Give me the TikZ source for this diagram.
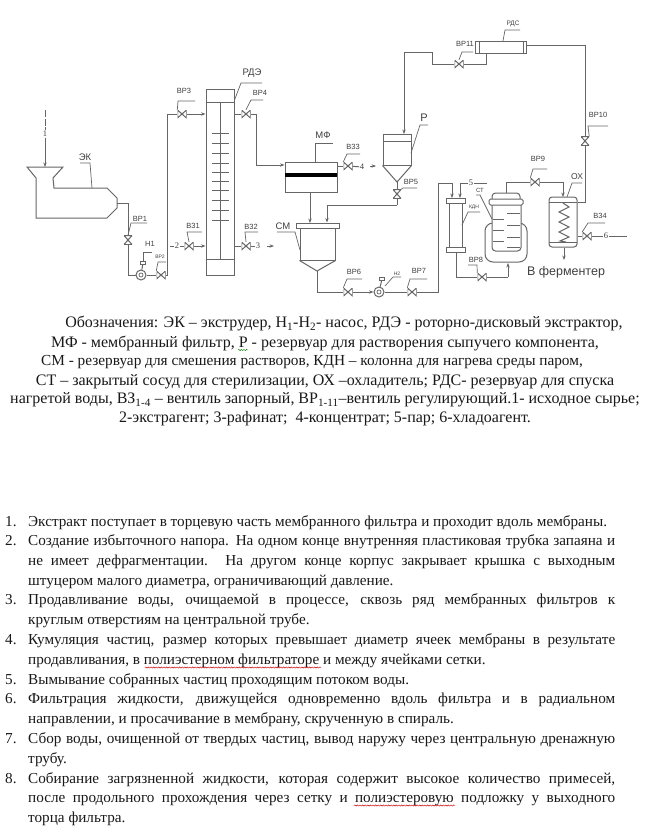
\documentclass[tikz,border=0pt]{standalone}
\usepackage{fontspec}
\setmainfont{Liberation Serif}
\newfontfamily\lblfont{Liberation Sans}
\usetikzlibrary{arrows.meta,decorations.pathmorphing,calc}
\definecolor{lc}{gray}{0.4}
\definecolor{tc}{gray}{0.1}
\definecolor{lt}{gray}{0.25}
\tikzset{
 x=1pt,y=-1pt,
 pipe/.style={draw=lc,line width=1pt},
 arr/.style={pipe,-{Stealth[length=4.5pt,width=3.4pt]}},
 dash1/.style={pipe,dashed,dash pattern=on 7pt off 1.5pt},
 lead/.style={draw=lc,line width=.7pt},
 eq/.style={draw=lc,line width=1pt,fill=white,rectangle,inner sep=0pt},
 vh/.style={rectangle,inner sep=0pt,minimum width=9pt,minimum height=8pt,
   path picture={\draw[lc,line width=1pt] (path picture bounding box.north west)--(path picture bounding box.south east)--(path picture bounding box.north east)--(path picture bounding box.south west)--cycle;}},
 vv/.style={rectangle,inner sep=0pt,minimum width=8pt,minimum height=9pt,
   path picture={\draw[lc,line width=1pt] (path picture bounding box.north west)--(path picture bounding box.south east)--(path picture bounding box.south west)--(path picture bounding box.north east)--cycle;}},
 pump/.style={circle,draw=lc,line width=1pt,fill=white,minimum size=10pt,inner sep=0pt,
   path picture={\draw[lc,line width=.7pt] (path picture bounding box.center) circle (2pt);}},
 lb/.style={font=\lblfont\fontsize{7.5}{8}\selectfont,text=lt,inner sep=0pt},
 lbb/.style={font=\lblfont\fontsize{9.5}{10}\selectfont,text=lt,inner sep=0pt},
 lbs/.style={font=\lblfont\fontsize{5}{6}\selectfont,text=lt,inner sep=0pt},
 st/.style={font=\fontsize{8.5}{9}\selectfont,text=lt,inner sep=.5pt},
 leg/.style={font=\fontsize{16}{17}\selectfont,text=tc,inner sep=0pt},
 li/.style={font=\fontsize{15.2}{16}\selectfont,text=tc,inner sep=0pt,anchor=base west},
 sq/.style={line width=.45pt,decorate,decoration={snake,amplitude=.6pt,segment length=2.6pt}},
}
\newcommand{\jl}[1]{\makebox[587pt][s]{#1}}
\begin{document}
\begin{tikzpicture}
\useasboundingbox[fill=white] (0,0) rectangle (645,830);

% ---- extruder
\coordinate (In1) at (45,110);
\coordinate (EKtop) at (45,167);
\coordinate (EKout) at (117,203);
\draw[pipe] (27,167)--(63,167)--(53,178)--(54,188)--(107,188)--(117,198)--(117,208)--(107,218)--(36,218)--(36,178)--cycle;
\node[st,fill=white] (S1) at (45,134) {1};
\draw[dash1] (In1)--(S1);
\draw[arr] (S1)--(EKtop);
\node[lbb] (LEK) at (85,157) {ЭК};
\draw[lead] (80,163)--(90,163)--(92,188);

% ---- extraction column
\node[eq,minimum width=28pt,minimum height=186pt] (RDE) at (220,182) {};
\draw[pipe] (RDE.west |- 0,102)--(RDE.east |- 0,102);
\draw[pipe] (RDE.west |- 0,259)--(RDE.east |- 0,259);
\draw[pipe] (220,102)--(220,259);
\foreach \yy in {133,143,153,163,172,181,190,200,210,220} \draw[pipe,line width=.7pt] (212,\yy)--(229,\yy);
\node[lbb] (LRDE) at (252,73) {РДЭ};
\draw[lead] (RDE.north east |- 0,100)--(241,83)--(262,83);

% ---- valves and pumps left
\node[vv] (VP1) at (128,240) {};
\node[pump] (H1) at (141,275) {};
\node[vh] (VP2) at (161,275) {};
\node[vh] (VP3) at (182,114) {};
\node[vh] (VP4) at (246,114) {};
\node[vh] (V31) at (189,246) {};
\node[vh] (V32) at (246,246) {};
\coordinate (c2) at (167,114);
\draw[pipe] (EKout)-|(VP1);
\draw[pipe] (VP1)|-(H1);
\draw[pipe] (H1)--(VP2);
\draw[pipe] (VP2)-|(c2)--(VP3);
\draw[arr] (VP3)--(RDE.west |- VP3);
\draw[pipe] (RDE.east |- VP4)--(VP4);
\node[eq,minimum width=5pt,minimum height=3pt] (H1box) at (143,263) {};
\draw[pipe] (H1box)--(H1);
\node[lb] (LVP1) at (140,219) {ВР1};
\draw[lead] (VP1.north)--(131,223)--(147,223);
\node[lb] (LH1) at (150,244) {Н1};
\draw[lead] (H1box)--(143,252)--(152,252);
\node[lbs] (LVP2) at (160,257) {ВР2};
\draw[lead] (VP2.north west)--(158,262)--(166,262);
\node[lb] (LVP3) at (184,91) {ВР3};
\draw[lead] (VP3.north west)--(178,101)--(195,101);
\node[lb] (LVP4) at (260,93) {ВР4};
\draw[lead] (VP4.north)--(251,100)--(263,100);
\node[st] (S2) at (177,246) {2};
\coordinate (S2a) at (170,246);
\draw[pipe] (S2a)--(S2)--(V31);
\draw[arr] (V31)--(RDE.west |- V31);
\node[lb] (LV31) at (193,226) {В31};
\draw[lead] (V31.north)--(187,232)--(202,232);
\node[st] (S3) at (258,246) {3};
\draw[pipe] (RDE.east |- V32)--(V32)--(S3);
\coordinate (A3a) at (267,246);
\coordinate (A3b) at (274,246);
\draw[arr] (A3a)--(A3b);
\node[lb] (LV32) at (251,227) {В32};
\draw[lead] (V32.north)--(245,232)--(258,232);

% ---- membrane filter
\node[eq,minimum width=52pt,minimum height=30pt] (MF) at (311,177) {};
\fill[black] (285,172.5) rectangle (337,176.5);
\coordinate (c4) at (256,165);
\draw[pipe] (VP4)-|(c4);
\draw[arr] (c4)--(MF.west |- c4);
\node[lbb] (LMF) at (323,135) {МФ};
\draw[lead] (315,162)--(315,143)--(333,143);
\node[vh] (V33) at (348,166) {};
\draw[pipe] (MF.east |- V33)--(V33);
\node[st] (S4) at (362,167) {4};
\draw[pipe] (V33)--(S4);
\coordinate (A4a) at (370,166);
\coordinate (A4b) at (376,166);
\draw[arr] (A4a)--(A4b);
\node[lb] (LV33) at (353,147) {В33};
\draw[lead] (V33.north west)--(347,154)--(360,154);

% ---- tank R
\node[eq,minimum width=28pt,minimum height=31pt] (R) at (397,149.5) {};
\coordinate (Rap) at (397,182);
\draw[pipe] (R.south west)--(Rap)--(R.south east);
\draw[pipe] (383,141)--(411,141);
\node[lbb,font=\lblfont\fontsize{11}{12}\selectfont] (LR) at (424,118) {Р};
\draw[lead] (411,153)--(420,125)--(428,125);
\node[vv] (VP5) at (397,194) {};
\draw[pipe] (Rap)--(VP5);
\node[lb] (LVP5) at (411,182) {ВР5};
\draw[lead] (VP5.north east)--(403,188)--(417,188);

% ---- mixing tank
\node[eq,minimum width=35pt,minimum height=32pt] (CM) at (317.5,244) {};
\node[eq,minimum width=43pt,minimum height=5pt] (CMf) at (317.5,225.5) {};
\coordinate (CMap) at (317,271);
\draw[pipe] (CM.south west)--(CMap)--(CM.south east);
\node[lbb] (LCM) at (283,226) {СМ};
\draw[lead] (277,232)--(295,232)--(300,250);
\coordinate (c5) at (397,205);
\draw[pipe] (VP5)--(c5);
\coordinate (c6) at (327,205);
\draw[pipe] (c5)--(c6);
\draw[arr] (c6)--(c6 |- CMf.north);
\draw[arr] (MF.south -| 310,0)--(310,223);

% ---- bottom line
\node[vh] (VP6) at (348,292) {};
\node[pump] (H2) at (379,292) {};
\node[vh] (VP7) at (412,292) {};
\coordinate (c7) at (317,292);
\draw[pipe] (CMap)--(c7)--(VP6);
\draw[arr] (VP6)--(H2);
\draw[pipe] (H2)--(VP7);
\node[eq,minimum width=5pt,minimum height=3pt] (H2box) at (382,279) {};
\draw[pipe] (H2box)--(H2);
\node[lb] (LVP6) at (354,272) {ВР6};
\draw[lead] (VP6.north west)--(347,279)--(362,279);
\node[lbs] (LH2) at (397,274) {Н2};
\draw[lead] (385,286)--(393,277)--(401,277);
\node[lb] (LVP7) at (419,271) {ВР7};
\draw[lead] (VP7.north west)--(410,279)--(427,279);

% ---- column KDN
\node[eq,minimum width=13pt,minimum height=44pt] (KD) at (455.5,225) {};
\node[eq,minimum width=19pt,minimum height=5pt] (KDt) at (455.5,201) {};
\node[eq,minimum width=19pt,minimum height=5pt] (KDb) at (455.5,249.5) {};
\coordinate (c8) at (438,292);
\coordinate (c9) at (438,183);
\coordinate (c10) at (452,183);
\draw[pipe] (VP7)--(c8)--(c9)--(c10);
\draw[arr] (c10)--(c10 |- KDt.north);
\node[st] (S5) at (471,183) {5};
\coordinate (c11) at (460,183);
\coordinate (S5e) at (487,183);
\draw[pipe] (S5e)--(S5)--(c11);
\draw[arr] (c11)--(c11 |- KDt.north);
\node[lbs] (LKD) at (474,207) {КДН};
\draw[lead] (462,225)--(468,212)--(480,212);

% ---- sterilizer
\draw[eq,rounded corners=8pt] (485,223) rectangle (527,262);
\draw[eq,rounded corners=3.5pt] (492,199)--(492,193)--(520,193)--(520,199);
\draw[eq,rounded corners=3.5pt] (492,205)--(492,251)--(521,251)--(521,205);
\node[eq,rounded corners=1.5pt,minimum width=34pt,minimum height=6pt] (ST) at (506,202) {};
\foreach \yy in {219,230,241} \draw[pipe,line width=.7pt] (493,\yy)--(504,\yy);
\foreach \yy in {213,225,237,247} \draw[pipe,line width=.7pt] (507,\yy)--(520,\yy);
\node[lbs,font=\lblfont\fontsize{6}{7}\selectfont] (LST) at (480,190) {СТ};
\draw[lead] (492,219)--(480,195)--(476,195);
\node[vh] (VP8) at (482,277) {};
\coordinate (c12) at (456,277);
\coordinate (c13) at (508,277);
\coordinate (c14) at (508,263);
\draw[pipe] (KDb.south -| c12)--(c12)--(VP8);
\draw[pipe] (VP8)--(c13);
\draw[arr] (c13)--(c14);
\node[lb] (LVP8) at (476,260) {ВР8};
\draw[lead] (VP8.north west)--(477,265)--(468,265);
\node[vh] (VP9) at (535,182) {};
\coordinate (c15) at (506,193);
\coordinate (c16) at (506,182);
\coordinate (c17) at (563,182);
\coordinate (c18) at (563,197);
\draw[pipe] (c15)--(c16)--(VP9);
\draw[pipe] (VP9)--(c17);
\draw[arr] (c17)--(c18);
\node[lb] (LVP9) at (538,159) {ВР9};
\draw[lead] (VP9.north west)--(533,169)--(547,169);

% ---- cooler
\node[eq,rounded corners=3pt,minimum width=28pt,minimum height=50pt] (OX) at (563,222) {};
\draw[pipe] (549,202)--(577,202);
\draw[pipe] (549,242)--(577,242);
\draw[pipe,line join=miter] (563,203)--(569,207)--(559,212)--(569,217)--(559,222)--(569,227)--(559,232)--(569,237)--(560,241)--(566,242);
\node[lbb,font=\lblfont\fontsize{8.5}{9}\selectfont] (LOX) at (577,177) {ОХ};
\draw[lead] (567,197)--(572,183)--(582,183);
\coordinate (OXo) at (564,260);
\draw[arr] (OX.south -| OXo)--(OXo);
\node[font=\lblfont\fontsize{12.5}{13}\selectfont,text=lt,inner sep=0pt] (LF) at (566,272) {В ферментер};
\node[vh] (V34) at (587,236) {};
\draw[pipe] (OX.east |- V34)--(V34);
\node[st] (S6) at (606,236) {6};
\coordinate (S6e) at (627,236);
\draw[pipe] (V34)--(S6)--(S6e);
\node[lb] (LV34) at (600,216) {В34};
\draw[lead] (V34.north west)--(588,223)--(605,223);
\node[vv] (VP10) at (585,141) {};
\coordinate (c19) at (585,202);
\coordinate (c20) at (585,45);
\draw[pipe] (OX.east |- c19)--(c19)--(VP10);
\node[lb] (LVP10) at (598,115) {ВР10};
\draw[lead] (VP10.north east)--(588,126)--(608,126);

% ---- drain tank
\node[eq,minimum width=51pt,minimum height=12pt] (RDS) at (500.5,47) {};
\draw[pipe] (479,41)--(479,53);
\draw[pipe] (523,41)--(523,53);
\draw[pipe] (VP10)--(c20)--(RDS.east |- c20);
\node[lbs,font=\lblfont\fontsize{6.5}{7}\selectfont] (LRDS) at (513,24) {РДС};
\draw[lead] (503,41)--(505,30)--(520,30);
\node[vh] (VP11) at (459,64) {};
\coordinate (c21) at (486,64);
\coordinate (c22) at (432,64);
\coordinate (c23) at (432,52);
\coordinate (c24) at (404,52);
\coordinate (c25) at (404,134);
\draw[pipe] (RDS.south -| c21)--(c21)--(VP11);
\draw[pipe] (VP11)--(c22)--(c23)--(c24);
\draw[arr] (c24)--(c25);
\node[lb] (LVP11) at (465,44) {ВР11};
\draw[lead] (VP11.north)--(462,52)--(473,52);

% ---- legend
\node[leg] (t1) at (344,323.5) {Обозначения: ЭК – экструдер, Н\textsubscript{1}-Н\textsubscript{2}- насос, РДЭ - роторно-дисковый экстрактор,};
\node[leg] (t2) at (325,343) {МФ - мембранный фильтр, Р - резервуар для растворения сыпучего компонента,};
\node[leg,font=\fontsize{15.3}{17}\selectfont] (t3) at (312,362) {СМ - резервуар для смешения растворов, КДН – колонна для нагрева среды паром,};
\node[leg] (t4) at (325,381.5) {СТ – закрытый сосуд для стерилизации, ОХ –охладитель; РДС- резервуар для спуска};
\node[leg] (t5) at (325,400) {нагретой воды, ВЗ\textsubscript{1-4} – вентиль запорный, ВР\textsubscript{1-11}–вентиль регулирующий.1- исходное сырье;};
\node[leg] (t6) at (325,419) {2-экстрагент; 3-рафинат;\ \ 4-концентрат; 5-пар; 6-хладоагент.};
\coordinate (g1) at (238,350); \coordinate (g2) at (248,350);
\draw[sq,green!50!black] (g1)--(g2);

% ---- list
\foreach \n/\yy in {1/526,2/545.5,3/604.5,4/644.5,5/684,6/703.5,7/743.5,8/783}
  \node[li] at (5,\yy) {\n.};
\node[li] (i1) at (28,526) {Экстракт поступает в торцевую часть мембранного фильтра и проходит вдоль мембраны.};
\node[li] (i2a) at (28,545.5) {\jl{Создание избыточного напора. На одном конце внутренняя пластиковая трубка запаяна и}};
\node[li] (i2b) at (28,565.5) {\jl{не имеет дефрагментации. На другом конце корпус закрывает крышка с выходным}};
\node[li] (i2c) at (28,585) {штуцером малого диаметра, ограничивающий давление.};
\node[li] (i3a) at (28,604.5) {\jl{Продавливание воды, очищаемой в процессе, сквозь ряд мембранных фильтров к}};
\node[li] (i3b) at (28,624.5) {круглым отверстиям на центральной трубе.};
\node[li] (i4a) at (28,644.5) {\jl{Кумуляция частиц, размер которых превышает диаметр ячеек мембраны в результате}};
\node[li] (i4b) at (28,664.5) {продавливания, в полиэстерном фильтраторе и между ячейками сетки.};
\node[li] (i5) at (28,684) {Вымывание собранных частиц проходящим потоком воды.};
\node[li] (i6a) at (28,703.5) {\jl{Фильтрация жидкости, движущейся одновременно вдоль фильтра и в радиальном}};
\node[li] (i6b) at (28,723.5) {направлении, и просачивание в мембрану, скрученную в спираль.};
\node[li] (i7a) at (28,743.5) {\jl{Сбор воды, очищенной от твердых частиц, вывод наружу через центральную дренажную}};
\node[li] (i7b) at (28,763.5) {трубу.};
\node[li] (i8a) at (28,783) {\jl{Собирание загрязненной жидкости, которая содержит высокое количество примесей,}};
\node[li] (i8b) at (28,802.5) {\jl{после продольного прохождения через сетку и полиэстеровую подложку у выходного}};
\node[li] (i8c) at (28,822) {торца фильтра.};
\coordinate (r1) at (145,667.5); \coordinate (r2) at (321,667.5);
\coordinate (r3) at (354,805.5); \coordinate (r4) at (455,805.5);
\draw[sq,red!80!black] (r1)--(r2);
\draw[sq,red!80!black] (r3)--(r4);
\end{tikzpicture}
\end{document}
